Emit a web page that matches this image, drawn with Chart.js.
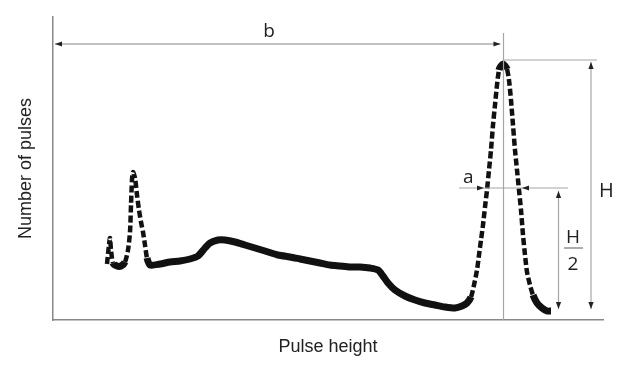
<!DOCTYPE html>
<html>
<head>
<meta charset="utf-8">
<script src="https://cdn.jsdelivr.net/npm/chart.js@4"></script>
<style>
  html, body { margin: 0; padding: 0; background: #fff; }
  #wrap { width: 632px; height: 365px; }
</style>
</head>
<body>
<div id="wrap"><canvas id="spectrum"></canvas></div>
<script>
// pulse height channel (x) and number of pulses (y)
var pulseHeight = [54, 56, 57, 58, 60, 64, 68, 72, 75, 77, 78, 79, 80, 82, 84, 86, 88, 90, 92, 94, 97,
  107, 117, 127, 137, 145, 152, 157, 165, 172, 182, 192, 202, 212, 225, 237, 247, 257, 267, 277,
  287, 297, 307, 317, 325, 330, 335, 342, 352, 362, 372, 382, 392, 402, 409, 414, 418, 421, 424,
  426, 428, 430, 432, 434, 436, 438, 440, 442, 444, 446, 448, 450, 452, 454, 456, 458, 460, 462,
  464, 466, 468, 470, 472, 474, 477, 480, 484, 489, 494, 498];
var pulseCount = [56, 75, 82, 70, 57, 54, 54, 58, 70, 88, 115, 140, 148, 142, 125, 110, 98, 88, 75, 62, 55,
  56, 58, 59, 61, 64, 72, 77, 80, 80, 78, 75, 72, 69, 65, 63, 61, 59, 57, 55,
  54, 53, 53, 52, 50, 44, 37, 30, 24, 20, 17, 15, 13, 12, 14, 17, 23, 35, 50,
  65, 80, 95, 113, 130, 150, 170, 195, 215, 235, 250, 254, 256, 254, 251, 240, 220, 195, 170,
  150, 130, 110, 85, 65, 48, 35, 25, 17, 12, 9, 9];

// annotation positions in data units
var peakX = 450;
var peakH = 260;
var halfH = 132;
var arrowY = 276;
var hArrowX = 538;
var halfArrowX = 505;

var points = pulseHeight.map(function (x, i) { return { x: x, y: pulseCount[i] }; });

var lineGrey = '#a9a5a3';

function arrowHead(ctx, x, y, dir) {
  // dir is where the tip points
  var L = 7, W = 2.6;
  ctx.beginPath();
  if (dir === 'right') { ctx.moveTo(x, y); ctx.lineTo(x - L, y - W); ctx.lineTo(x - L, y + W); }
  if (dir === 'left') { ctx.moveTo(x, y); ctx.lineTo(x + L, y - W); ctx.lineTo(x + L, y + W); }
  if (dir === 'up') { ctx.moveTo(x, y); ctx.lineTo(x - W, y + L); ctx.lineTo(x + W, y + L); }
  if (dir === 'down') { ctx.moveTo(x, y); ctx.lineTo(x - W, y - L); ctx.lineTo(x + W, y - L); }
  ctx.closePath();
  ctx.fill();
}

function line(ctx, x1, y1, x2, y2) {
  ctx.beginPath();
  ctx.moveTo(x1, y1);
  ctx.lineTo(x2, y2);
  ctx.stroke();
}

var markers = {
  id: 'markers',
  afterDatasetsDraw: function (chart) {
    var ctx = chart.ctx;
    var xs = chart.scales.x, ys = chart.scales.y;
    var px = Math.round(xs.getPixelForValue(peakX)) + 0.5;
    var top = ys.getPixelForValue(peakH);
    var half = ys.getPixelForValue(halfH);
    var base = ys.getPixelForValue(0);
    var arrY = ys.getPixelForValue(arrowY);
    var hx = xs.getPixelForValue(hArrowX);
    var h2x = xs.getPixelForValue(halfArrowX) + 0.5;
    ctx.save();
    ctx.lineWidth = 1.2;
    ctx.strokeStyle = lineGrey;
    ctx.fillStyle = '#222';

    // vertical line through peak
    line(ctx, px, ys.getPixelForValue(287), px, base);

    // b arrow
    ctx.strokeStyle = '#8a8684';
    line(ctx, xs.left + 2, arrY, px - 3, arrY);
    arrowHead(ctx, xs.left + 2, arrY, 'left');
    arrowHead(ctx, px - 3, arrY, 'right');

    // H
    ctx.strokeStyle = lineGrey;
    line(ctx, px, top, hx + 6, top);
    line(ctx, hx, top + 2, hx, base - 11);
    arrowHead(ctx, hx, top + 2, 'up');
    arrowHead(ctx, hx, base - 11, 'down');

    // half height line with a arrows
    line(ctx, xs.getPixelForValue(406), half, xs.getPixelForValue(515), half);
    arrowHead(ctx, xs.getPixelForValue(431), half, 'right');
    arrowHead(ctx, xs.getPixelForValue(469), half, 'left');

    // H/2 arrow
    line(ctx, h2x, half + 3, h2x, base - 11);
    arrowHead(ctx, h2x, half + 3, 'up');
    arrowHead(ctx, h2x, base - 11, 'down');

    // labels
    ctx.fillStyle = '#222';
    ctx.font = '19px "Open Sans"';
    ctx.textBaseline = 'alphabetic';
    ctx.textAlign = 'center';
    ctx.fillText('b', xs.getPixelForValue(216), arrY - 7);
    ctx.textAlign = 'left';
    ctx.fillText('a', xs.getPixelForValue(410), half - 5);
    ctx.font = '20px "Open Sans"';
    ctx.fillText('H', hx + 8, ys.getPixelForValue(123));
    ctx.font = '19px "Open Sans"';
    ctx.textAlign = 'center';
    var fx = xs.getPixelForValue(520);
    var fy = ys.getPixelForValue(72);
    ctx.fillText('H', fx, fy - 5);
    ctx.fillText('2', fx, fy + 22);
    ctx.strokeStyle = '#777';
    line(ctx, fx - 9, fy, fx + 10, fy);
    ctx.restore();
  }
};

var ctx = document.getElementById('spectrum').getContext('2d');
var chart = new Chart(ctx, {
  type: 'line',
  data: {
    datasets: [{
      data: points,
      borderColor: '#111',
      borderWidth: 7,
      borderCapStyle: 'butt',
      borderJoinStyle: 'round',
      pointRadius: 0,
      tension: 0.25,
      segment: {
        borderDash: function (c) {
          var dx = Math.abs(c.p1.x - c.p0.x), dy = Math.abs(c.p1.y - c.p0.y);
          return dy > dx * 2.5 ? [7, 3] : undefined;
        },
        borderWidth: function (c) {
          var dx = Math.abs(c.p1.x - c.p0.x), dy = Math.abs(c.p1.y - c.p0.y);
          return dy > dx * 2.5 ? 4.5 : undefined;
        }
      }
    }]
  },
  options: {
    responsive: true,
    maintainAspectRatio: false,
    animation: false,
    layout: { padding: { left: 0, top: 17, right: 29, bottom: 0 } },
    plugins: { legend: { display: false }, tooltip: { enabled: false } },
    scales: {
      x: {
        type: 'linear',
        min: 0,
        max: 550,
        grid: { display: false },
        border: { display: true, color: '#888', width: 1.5 },
        ticks: { display: false },
        title: {
          display: true,
          text: 'Pulse height',
          color: '#222',
          font: { family: 'Liberation Sans', size: 18 },
          padding: { top: 0, bottom: 7 }
        },
        afterFit: function (scale) { scale.height = 45; }
      },
      y: {
        min: 0,
        max: 303,
        grid: { display: false },
        border: { display: true, color: '#888', width: 1.5 },
        ticks: { display: false },
        title: {
          display: true,
          text: 'Number of pulses',
          color: '#222',
          font: { family: 'Liberation Sans', size: 18 },
          padding: { top: 15, bottom: 0 }
        },
        afterFit: function (scale) { scale.width = 53; }
      }
    }
  },
  plugins: [markers]
});
</script>
</body>
</html>
